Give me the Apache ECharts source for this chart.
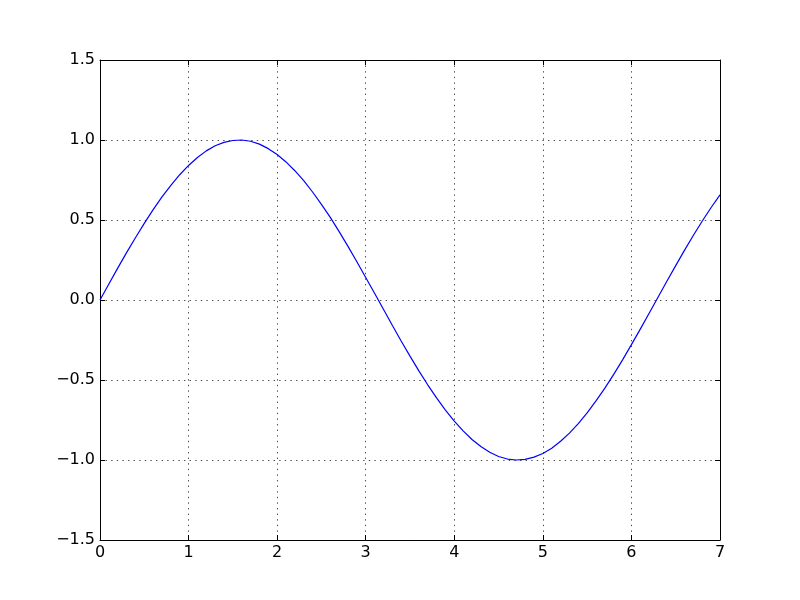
<!DOCTYPE html>
<html>
<head>
<meta charset="utf-8">
<script src="https://cdn.jsdelivr.net/npm/echarts@6/dist/echarts.min.js"></script>
<style>html,body{margin:0;padding:0;background:#fff;}#c{width:800px;height:600px;}</style>
</head>
<body>
<div id="c"></div>
<script>
const xValues = [0.0,0.1,0.2,0.3,0.4,0.5,0.6,0.7,0.8,0.9,1.0,1.1,1.2,1.3,1.4,1.5,1.6,1.7,1.8,1.9,2.0,2.1,2.2,2.3,2.4,2.5,2.6,2.7,2.8,2.9,3.0,3.1,3.2,3.3,3.4,3.5,3.6,3.7,3.8,3.9,4.0,4.1,4.2,4.3,4.4,4.5,4.6,4.7,4.8,4.9,5.0,5.1,5.2,5.3,5.4,5.5,5.6,5.7,5.8,5.9,6.0,6.1,6.2,6.3,6.4,6.5,6.6,6.7,6.8,6.9,7.0];
const yValues = [0.000,0.100,0.199,0.296,0.389,0.479,0.565,0.644,0.717,0.783,0.841,0.891,0.932,0.964,0.985,0.997,1.000,0.992,0.974,0.946,0.909,0.863,0.808,0.746,0.675,0.598,0.516,0.427,0.335,0.239,0.141,0.042,-0.058,-0.158,-0.256,-0.351,-0.443,-0.530,-0.612,-0.688,-0.757,-0.818,-0.872,-0.916,-0.952,-0.978,-0.994,-1.000,-0.996,-0.982,-0.959,-0.926,-0.883,-0.832,-0.773,-0.706,-0.631,-0.551,-0.465,-0.374,-0.279,-0.182,-0.083,0.017,0.117,0.215,0.312,0.405,0.494,0.578,0.657];
const xTicks = [0,1,2,3,4,5,6,7];
const yTicks = [-1.5,-1.0,-0.5,0.0,0.5,1.0,1.5];

const chart = echarts.init(document.getElementById('c'), null, {renderer:'canvas'});
const font = {fontFamily:'DejaVu Sans', fontSize:16, color:'#000'};
const fmtY = v => v.toFixed(1).replace('-', '\u2212');
const fmtX = v => String(v).replace('-', '\u2212');
const axisLineStyle = {show:true, onZero:false, lineStyle:{color:'#000', width:1}};
const tick = {show:true, inside:true, length:5, lineStyle:{color:'#000'}};
const grid = {show:true, lineStyle:{color:'#000', type:[1.4,4.2], width:0.7}};
chart.setOption({
  animation:false,
  grid:{left:100, right:80, top:60, bottom:60, show:false},
  xAxis:[
    {type:'value', min:xTicks[0], max:xTicks[xTicks.length-1], interval:1, position:'bottom',
     axisLine:axisLineStyle, axisTick:tick, axisLabel:Object.assign({margin:5, formatter:fmtX}, font),
     splitLine:grid},
    {type:'value', min:xTicks[0], max:xTicks[xTicks.length-1], interval:1, position:'top',
     axisLine:axisLineStyle, axisTick:tick, axisLabel:{show:false}, splitLine:{show:false}}
  ],
  yAxis:[
    {type:'value', min:yTicks[0], max:yTicks[yTicks.length-1], interval:0.5, position:'left',
     axisLine:axisLineStyle, axisTick:tick, axisLabel:Object.assign({margin:5, formatter:fmtY}, font),
     splitLine:grid},
    {type:'value', min:yTicks[0], max:yTicks[yTicks.length-1], interval:0.5, position:'right',
     axisLine:axisLineStyle, axisTick:tick, axisLabel:{show:false}, splitLine:{show:false}}
  ],
  series:[{
    type:'line', xAxisIndex:0, yAxisIndex:0,
    data:xValues.map((x,i)=>[x,yValues[i]]),
    showSymbol:false, smooth:false,
    lineStyle:{color:'#0000ff', width:1.2}
  }]
});
</script>
</body>
</html>
